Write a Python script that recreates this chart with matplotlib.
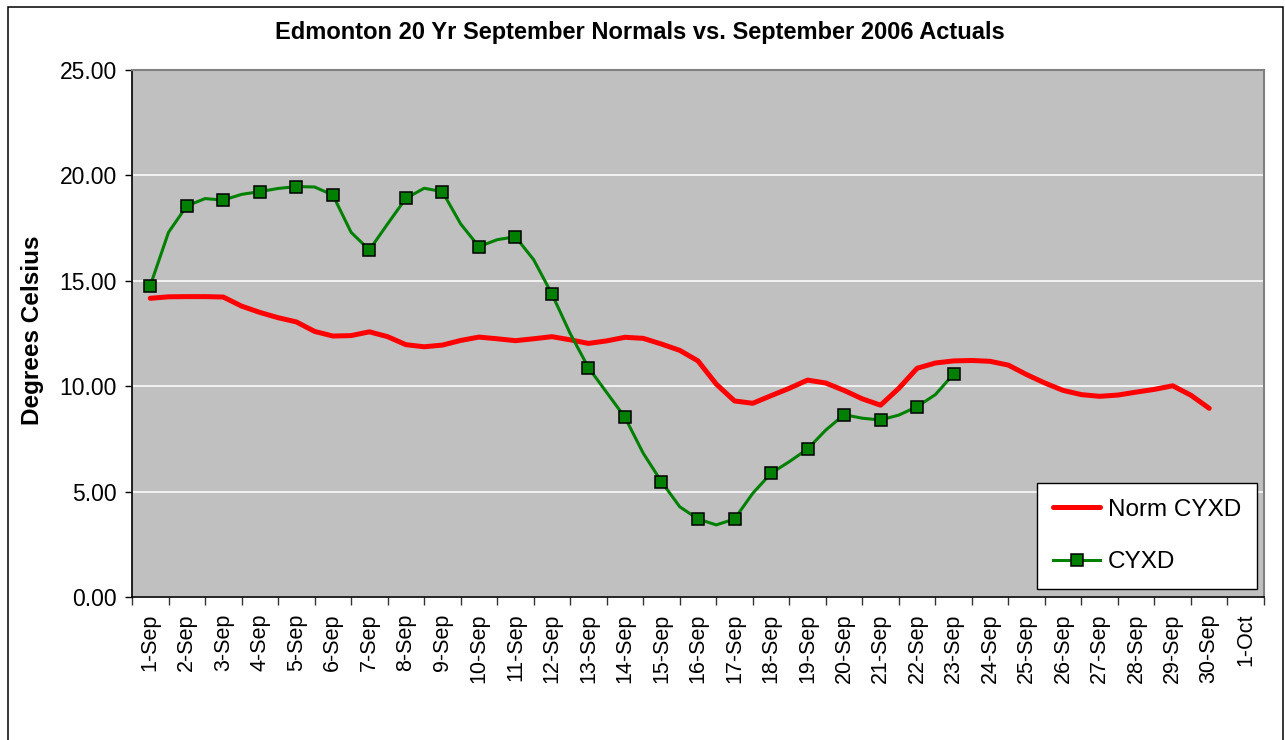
import numpy as np
import matplotlib
matplotlib.use("Agg")
import matplotlib.pyplot as plt
from matplotlib.patches import Rectangle

plt.rcParams['font.family'] = ['Liberation Sans', 'DejaVu Sans']

# category labels (one per day)
day_labels = [f"{d}-Sep" for d in range(1, 31)] + ["1-Oct"]

# values read at half-day steps starting on 1-Sep
norm_cyxd = [14.17, 14.24, 14.25, 14.25, 14.23, 13.8, 13.5, 13.25, 13.05, 12.6,
             12.38, 12.4, 12.58, 12.35, 11.97, 11.87, 11.95, 12.17, 12.33, 12.25,
             12.16, 12.25, 12.35, 12.2, 12.03, 12.15, 12.32, 12.27, 12.0, 11.7,
             11.2, 10.1, 9.3, 9.19, 9.55, 9.9, 10.29, 10.15, 9.8, 9.4,
             9.1, 9.9, 10.85, 11.1, 11.2, 11.22, 11.18, 11.0, 10.55, 10.15,
             9.8, 9.6, 9.52, 9.58, 9.72, 9.85, 10.02, 9.57, 8.95]

cyxd = [14.77, 17.3, 18.55, 18.9, 18.83, 19.1, 19.23, 19.38, 19.47, 19.45,
        19.07, 17.3, 16.46, 17.7, 18.91, 19.39, 19.23, 17.7, 16.62, 16.95,
        17.09, 16.0, 14.37, 12.5, 10.88, 9.7, 8.52, 6.82, 5.47, 4.28,
        3.7, 3.42, 3.7, 4.92, 5.87, 6.42, 7.02, 7.92, 8.65, 8.48,
        8.4, 8.63, 9.03, 9.6, 10.58]

x_norm = np.arange(len(norm_cyxd)) * 0.5
x_act = np.arange(len(cyxd)) * 0.5

W, H = 1285, 740
fig = plt.figure(figsize=(W / 100, H / 100), dpi=100)
fig.patch.set_facecolor('white')
ax = fig.add_axes([132 / W, 1 - 597 / H, (1264 - 132) / W, (597 - 70) / H])
ax.set_facecolor('#C0C0C0')

ax.plot(x_norm, norm_cyxd, color='#FF0000', lw=3.6, solid_joinstyle='round',
        solid_capstyle='round', label='Norm CYXD', zorder=3)
ax.plot(x_act, cyxd, color='#008000', lw=2.2, solid_joinstyle='round',
        marker='s', markevery=2, markersize=8.5, markerfacecolor='#008000',
        markeredgecolor='black', markeredgewidth=1.1, label='CYXD', zorder=4)

ax.set_xlim(-0.5, len(day_labels) - 0.5)
ax.set_ylim(0, 25)
ax.set_yticks(np.arange(0, 26, 5))
ax.set_yticklabels([f"{v:.2f}" for v in np.arange(0, 26, 5)])
ax.yaxis.grid(True, color='white', lw=1.1)
ax.set_axisbelow(True)

ax.set_xticks(np.arange(len(day_labels) + 1) - 0.5)
ax.set_xticklabels([])
ax.set_xticks(np.arange(len(day_labels)), minor=True)
ax.set_xticklabels(day_labels, minor=True, rotation=90)
ax.tick_params(axis='x', which='major', direction='out', length=6, width=1, color='#333333')
ax.tick_params(axis='x', which='minor', length=0, pad=12, labelsize=15.5)
ax.tick_params(axis='y', direction='out', length=5, width=1, pad=6, labelsize=16.5)

for s in ['top', 'right']:
    ax.spines[s].set_color('#808080')
    ax.spines[s].set_linewidth(1.5)
for s in ['left', 'bottom']:
    ax.spines[s].set_color('black')
    ax.spines[s].set_linewidth(1.2)

leg = ax.legend(loc='upper left', bbox_to_anchor=(0.7995, 0.2163), borderaxespad=0,
                fontsize=17.5, handlelength=1.95, handletextpad=0.3, labelspacing=1.25,
                borderpad=0.65, fancybox=False, framealpha=1, edgecolor='black')
leg.get_frame().set_linewidth(1.0)

fig.text(640 / W, 1 - 32 / H, "Edmonton 20 Yr September Normals vs. September 2006 Actuals",
         ha='center', va='center', fontsize=17, fontweight='bold')
fig.text(33 / W, 1 - 330 / H, "Degrees Celsius", rotation=90, ha='center', va='center',
         fontsize=17.5, fontweight='bold')

# outer chart border
fig.patches.append(Rectangle((8 / W, -0.05), (1283 - 8) / W, 1.05 - 7 / H,
                             transform=fig.transFigure, fill=False, edgecolor='black', lw=1.1))

fig.savefig('out.png', dpi=100)
